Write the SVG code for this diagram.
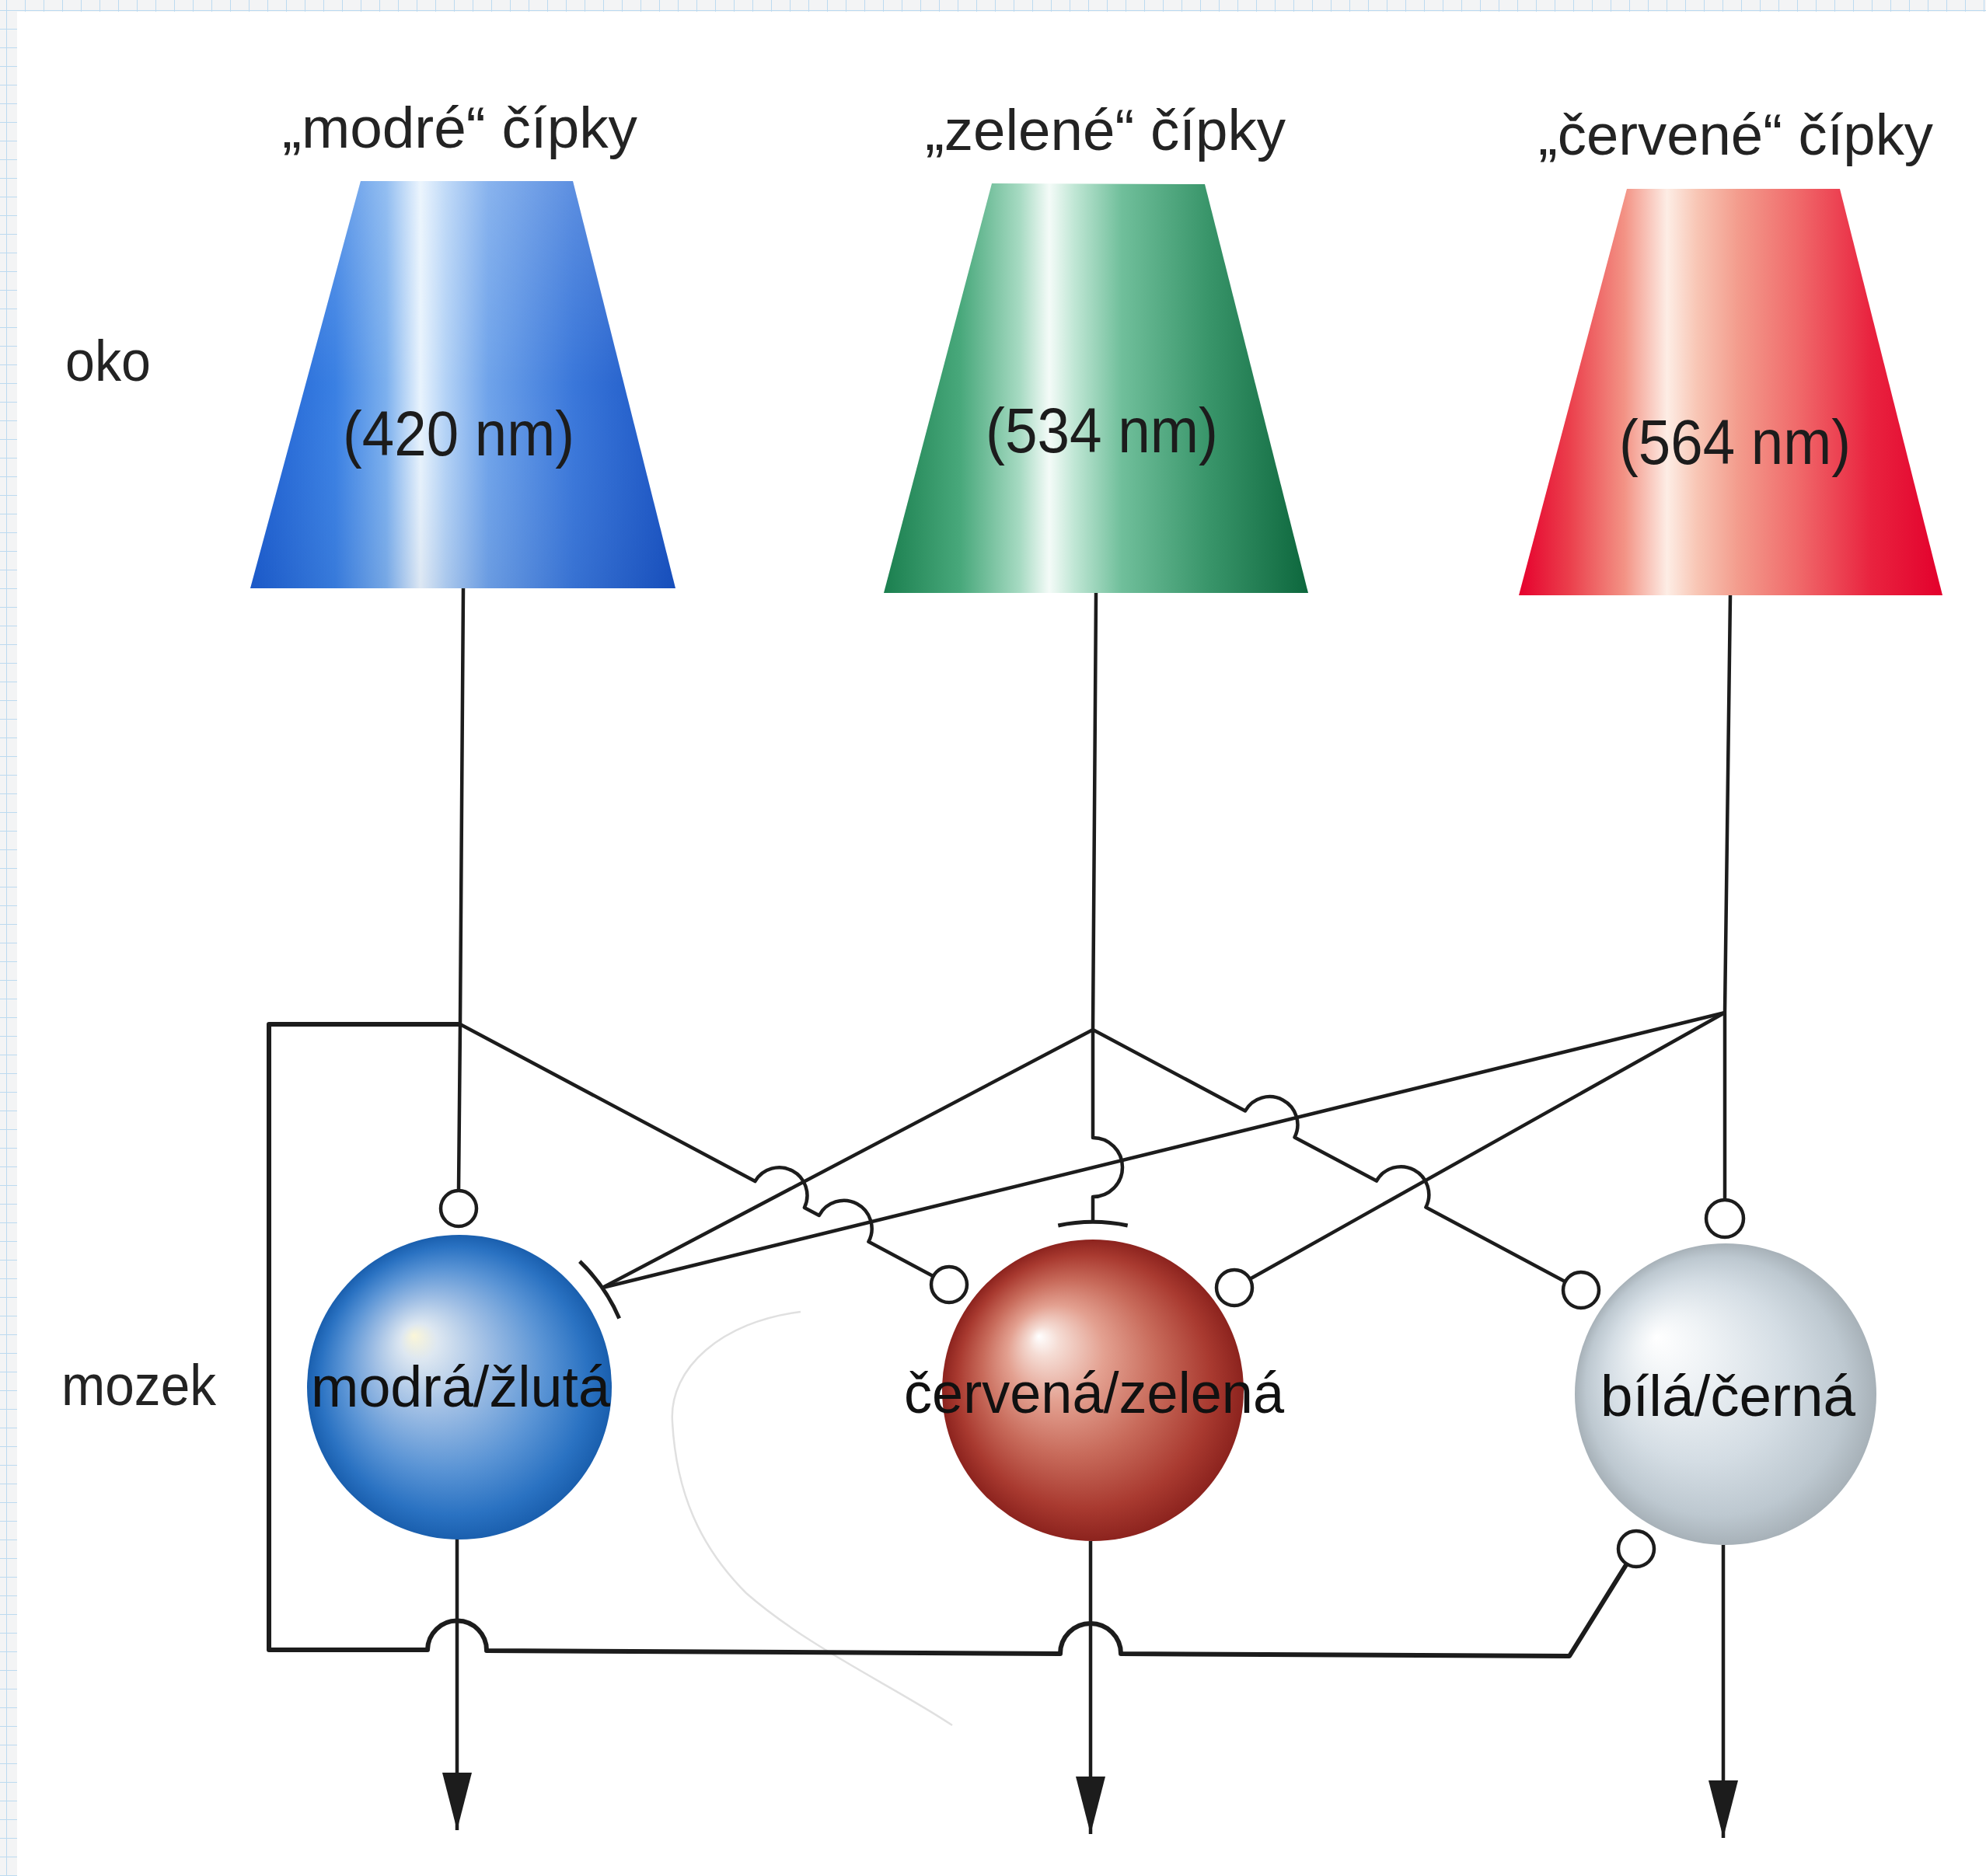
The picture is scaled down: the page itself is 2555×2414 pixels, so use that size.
<svg xmlns="http://www.w3.org/2000/svg" width="2555" height="2414" viewBox="0 0 2555 2414">
<defs>
<style>
.lbl{font-family:"Liberation Sans","DejaVu Sans",Arial,sans-serif;font-size:75px;fill:#232323}
.nm{font-family:"Liberation Sans","DejaVu Sans",Arial,sans-serif;font-size:81px;fill:#1c1c1c}
.in{fill:#111111}
.ln{fill:none;stroke:#1c1c1c;stroke-width:4.5;stroke-linejoin:round}
.thick{stroke-width:6}
.exc{fill:#ffffff;stroke:#1c1c1c;stroke-width:4.5}
.bar{fill:none;stroke:#1c1c1c;stroke-width:5}
</style>
<pattern id="grid" x="8" y="13" width="24" height="24" patternUnits="userSpaceOnUse">
<rect width="24" height="24" fill="#f3f4f5"/>
<path d="M0 0H24M0 0V24" stroke="#bcdaf0" stroke-width="2"/>
</pattern>
<marker id="arr" viewBox="0 0 74 38" refX="74" refY="19" markerWidth="74" markerHeight="38" markerUnits="userSpaceOnUse" orient="auto">
<path d="M0,0 L74,19 L0,38 Z" fill="#1c1c1c"/>
</marker>
<linearGradient id="gBlue" gradientUnits="userSpaceOnUse" x1="322" y1="0" x2="869" y2="0">
<stop offset="0" stop-color="#1c5dcf"/>
<stop offset="0.2" stop-color="#3a80e3"/>
<stop offset="0.32" stop-color="#7cb0ee"/>
<stop offset="0.4" stop-color="#e8f3fd"/>
<stop offset="0.46" stop-color="#b3d2f6"/>
<stop offset="0.56" stop-color="#6fa3ea"/>
<stop offset="0.76" stop-color="#3a77da"/>
<stop offset="1" stop-color="#1852c2"/>
</linearGradient>
<linearGradient id="gBlueV" x1="0" y1="0" x2="0" y2="1">
<stop offset="0" stop-color="#ffffff" stop-opacity="0.18"/>
<stop offset="0.5" stop-color="#ffffff" stop-opacity="0"/>
<stop offset="1" stop-color="#000030" stop-opacity="0.05"/>
</linearGradient>
<linearGradient id="gGreen" gradientUnits="userSpaceOnUse" x1="1137" y1="0" x2="1683" y2="0">
<stop offset="0" stop-color="#1b7f4f"/>
<stop offset="0.18" stop-color="#48a87b"/>
<stop offset="0.32" stop-color="#a6dac2"/>
<stop offset="0.39" stop-color="#f4fbf8"/>
<stop offset="0.45" stop-color="#bfe6d4"/>
<stop offset="0.56" stop-color="#70bf9b"/>
<stop offset="0.76" stop-color="#3a966b"/>
<stop offset="1" stop-color="#0d673d"/>
</linearGradient>
<linearGradient id="gRed" gradientUnits="userSpaceOnUse" x1="1954" y1="0" x2="2499" y2="0">
<stop offset="0" stop-color="#e6002d"/>
<stop offset="0.12" stop-color="#eb3f4c"/>
<stop offset="0.25" stop-color="#f39385"/>
<stop offset="0.35" stop-color="#fdede5"/>
<stop offset="0.42" stop-color="#f8c6b5"/>
<stop offset="0.52" stop-color="#f39b8c"/>
<stop offset="0.66" stop-color="#f0696a"/>
<stop offset="0.83" stop-color="#e9233f"/>
<stop offset="1" stop-color="#e3002c"/>
</linearGradient>
<radialGradient id="sBlue" cx="0.5" cy="0.5" r="0.5" fx="0.35" fy="0.33">
<stop offset="0" stop-color="#fbf6d8"/>
<stop offset="0.12" stop-color="#dde7f1"/>
<stop offset="0.38" stop-color="#9dbde4"/>
<stop offset="0.66" stop-color="#5a94d5"/>
<stop offset="0.88" stop-color="#2a72c2"/>
<stop offset="1" stop-color="#1a5fae"/>
</radialGradient>
<radialGradient id="sRed" cx="0.5" cy="0.5" r="0.5" fx="0.32" fy="0.32">
<stop offset="0" stop-color="#ffffff"/>
<stop offset="0.1" stop-color="#f5dcd4"/>
<stop offset="0.32" stop-color="#e3a090"/>
<stop offset="0.58" stop-color="#c86b5b"/>
<stop offset="0.84" stop-color="#a93a30"/>
<stop offset="1" stop-color="#8c231e"/>
</radialGradient>
<radialGradient id="sWhite" cx="0.5" cy="0.5" r="0.5" fx="0.27" fy="0.31">
<stop offset="0" stop-color="#ffffff"/>
<stop offset="0.25" stop-color="#eef2f5"/>
<stop offset="0.6" stop-color="#d4dde4"/>
<stop offset="0.86" stop-color="#bdc8d0"/>
<stop offset="1" stop-color="#a7b1b8"/>
</radialGradient>
</defs>

<g id="background">
<rect x="0" y="0" width="2555" height="2414" fill="url(#grid)"/>
<rect x="22" y="15" width="2533" height="2399" fill="#ffffff"/>
<path d="M1030,1688 C930,1700 860,1760 865,1830 C870,1920 900,1990 960,2050 C1040,2120 1150,2170 1225,2220" fill="none" stroke="#e0e0e0" stroke-width="2.5"/>
</g>

<g id="row-labels">
<text class="lbl" x="84" y="490" textLength="110" lengthAdjust="spacingAndGlyphs">oko</text>
<text class="lbl" x="79" y="1808" textLength="199" lengthAdjust="spacingAndGlyphs">mozek</text>
</g>

<g id="cone-blue">
<text class="lbl" x="363" y="190" textLength="457" lengthAdjust="spacingAndGlyphs">„modré“ čípky</text>
<polygon points="464,233 737,233 869,757 322,757" fill="url(#gBlue)"/>
<polygon points="464,233 737,233 869,757 322,757" fill="url(#gBlueV)"/>
<text class="nm" x="441" y="586" textLength="298" lengthAdjust="spacingAndGlyphs">(420 nm)</text>
</g>

<g id="cone-green">
<text class="lbl" x="1190" y="193" textLength="464" lengthAdjust="spacingAndGlyphs">„zelené“ čípky</text>
<polygon points="1276,236 1550,237 1683,763 1137,763" fill="url(#gGreen)"/>
<text class="nm" x="1268" y="582" textLength="299" lengthAdjust="spacingAndGlyphs">(534 nm)</text>
</g>

<g id="cone-red">
<text class="lbl" x="1979" y="199" textLength="508" lengthAdjust="spacingAndGlyphs">„červené“ čípky</text>
<polygon points="2093,243 2367,243 2499,766 1954,766" fill="url(#gRed)"/>
<text class="nm" x="2083" y="597" textLength="298" lengthAdjust="spacingAndGlyphs">(564 nm)</text>
</g>

<g id="connectors">
<path class="ln" d="M596,757 L592,1318 L590,1532"/>
<path class="ln" d="M1410,763 L1406,1325 L1406,1464 A38,38 0 0 1 1406,1540 L1406,1572"/>
<path class="ln" d="M2226,766 L2219,1303 L2219,1544"/>
<path class="ln" d="M592,1318 L971.4,1520.1 A36,36 0 0 1 1034.9,1553.9 L1053.8,1564 A36,36 0 0 1 1117.4,1597.8 L1200.7,1642.2"/>
<path class="ln" d="M1406,1325 L775,1657"/>
<path class="ln" d="M2219,1303 L775,1657"/>
<path class="ln" d="M1406,1325 L1602,1429.5 A36,36 0 0 1 1665.5,1463.4 L1770.9,1519.6 A36,36 0 0 1 1834.4,1553.5 L2013.7,1649.2"/>
<path class="ln" d="M2219,1303 L1608.1,1645.7"/>
<path class="ln thick" d="M592,1318 L346,1318 L346,2123 L550,2123 A38,38 0 0 1 626,2124 L1364,2128 A39,39 0 0 1 1442,2128 L2019,2131 L2093,2012"/>
<path class="ln" d="M588,1980 L588,2355" marker-end="url(#arr)"/>
<path class="ln" d="M1403,1983 L1403,2360" marker-end="url(#arr)"/>
<path class="ln" d="M2217,1988 L2217,2365" marker-end="url(#arr)"/>
<path class="bar" d="M745.8,1623.1 A224,224 0 0 1 796.7,1696.4"/>
<path class="bar" d="M1361.3,1577 A217,217 0 0 1 1450.7,1577"/>
<circle class="exc" cx="590" cy="1555" r="23"/>
<circle class="exc" cx="1221" cy="1653" r="23"/>
<circle class="exc" cx="1588" cy="1657" r="23"/>
<circle class="exc" cx="2034" cy="1660" r="23"/>
<circle class="exc" cx="2219" cy="1568" r="24"/>
<circle class="exc" cx="2105" cy="1993" r="23"/>
</g>

<g id="sphere-blue">
<circle cx="591" cy="1785" r="196" fill="url(#sBlue)"/>
<text class="lbl in" x="400" y="1810" textLength="385" lengthAdjust="spacingAndGlyphs">modrá/žlutá</text>
</g>

<g id="sphere-red">
<circle cx="1406" cy="1789" r="194" fill="url(#sRed)"/>
<text class="lbl in" x="1163" y="1818" textLength="489" lengthAdjust="spacingAndGlyphs">červená/zelená</text>
</g>

<g id="sphere-white">
<circle cx="2220" cy="1794" r="194" fill="url(#sWhite)"/>
<text class="lbl in" x="2059" y="1822" textLength="328" lengthAdjust="spacingAndGlyphs">bílá/černá</text>
</g>
</svg>
